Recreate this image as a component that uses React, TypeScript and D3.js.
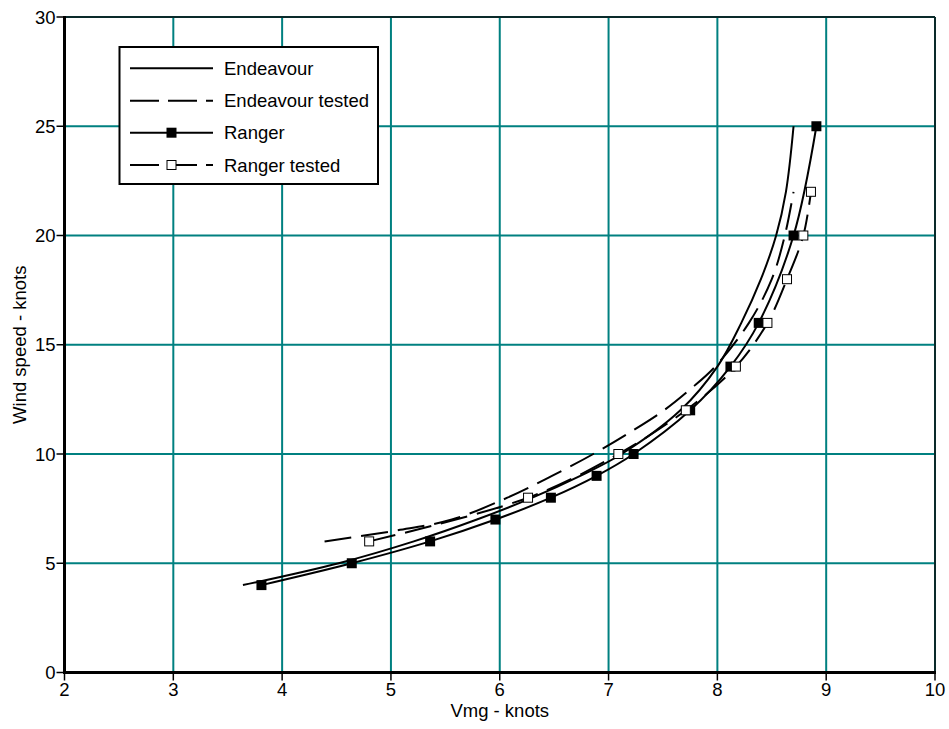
import React from "react";
import * as d3 from "d3";

const xTicks = [2, 3, 4, 5, 6, 7, 8, 9, 10];
const yTicks = [0, 5, 10, 15, 20, 25, 30];

const endeavourWind = [4, 5, 6, 7, 8, 9, 10, 12, 14, 16, 18, 20, 22, 25];
const endeavourVmg = [3.64, 4.52, 5.21, 5.79, 6.3, 6.74, 7.12, 7.66, 8.0, 8.22, 8.4, 8.54, 8.63, 8.7];

const endeavourTestedWind = [6, 6.5, 7, 8, 9, 10, 11, 12, 13, 14, 16, 18, 20, 22];
const endeavourTestedVmg = [4.39, 5.05, 5.56, 6.07, 6.48, 6.86, 7.2, 7.51, 7.76, 7.98, 8.29, 8.5, 8.62, 8.7];

const rangerWind = [4, 5, 6, 7, 8, 9, 10, 12, 14, 16, 20, 25];
const rangerVmg = [3.81, 4.64, 5.36, 5.96, 6.47, 6.89, 7.23, 7.75, 8.12, 8.38, 8.7, 8.91];

const rangerTestedWind = [6, 8, 10, 12, 14, 16, 18, 20, 22];
const rangerTestedVmg = [4.8, 6.26, 7.09, 7.71, 8.17, 8.46, 8.64, 8.79, 8.86];

const legendLabels = ["Endeavour", "Endeavour tested", "Ranger", "Ranger tested"];

const W = 949;
const H = 729;
const FONT = "'Liberation Sans', Arial, sans-serif";
const GRID = "#008080";
const DASH = "27 10";

export default function App() {
  const x = d3.scaleLinear().domain([2, 10]).range([64.5, 935]);
  const y = d3.scaleLinear().domain([0, 30]).range([672.5, 17]);

  const line = d3
    .line<[number, number]>()
    .x((d) => x(d[0]))
    .y((d) => y(d[1]))
    .curve(d3.curveCatmullRom.alpha(0.5));

  const pts = (v: number[], w: number[]) => v.map((d, i) => [d, w[i]] as [number, number]);
  const endeavour = pts(endeavourVmg, endeavourWind);
  const endeavourTested = pts(endeavourTestedVmg, endeavourTestedWind);
  const ranger = pts(rangerVmg, rangerWind);
  const rangerTested = pts(rangerTestedVmg, rangerTestedWind);

  const [x0, x1] = x.range();
  const [y0, y1] = y.range();

  const legendRows = [68.3, 100.7, 132.7, 165];
  const lx0 = 130;
  const lx1 = 213;
  const lmid = (lx0 + lx1) / 2;

  return (
    <svg
      width={W}
      height={H}
      style={{ position: "absolute", left: 0, top: 0, background: "#fff" }}
      fontFamily={FONT}
    >
      <rect x={0} y={0} width={W} height={H} fill="#fff" />
      {/* grid */}
      {xTicks.slice(1, -1).map((t) => (
        <line key={"gx" + t} x1={x(t)} x2={x(t)} y1={y0} y2={y1} stroke={GRID} strokeWidth={2} />
      ))}
      {yTicks.slice(1, -1).map((t) => (
        <line key={"gy" + t} x1={x0} x2={x1} y1={y(t)} y2={y(t)} stroke={GRID} strokeWidth={2} />
      ))}
      {/* frame top/right */}
      <line x1={x0} x2={x1} y1={y1} y2={y1} stroke="#0a2a2a" strokeWidth={2} />
      <line x1={x1} x2={x1} y1={y1} y2={y0} stroke="#0a2a2a" strokeWidth={2} />

      {/* curves */}
      <path d={line(endeavour) || ""} fill="none" stroke="#000" strokeWidth={2} />
      <path d={line(endeavourTested) || ""} fill="none" stroke="#000" strokeWidth={2} strokeDasharray={DASH} />
      <path d={line(ranger) || ""} fill="none" stroke="#000" strokeWidth={2} />
      <path d={line(rangerTested) || ""} fill="none" stroke="#000" strokeWidth={2} strokeDasharray={DASH} />

      {ranger.map((d, i) => (
        <rect key={"r" + i} x={x(d[0]) - 5} y={y(d[1]) - 5} width={10} height={10} fill="#000" />
      ))}
      {rangerTested.map((d, i) => (
        <rect
          key={"rt" + i}
          x={x(d[0]) - 4.5}
          y={y(d[1]) - 4.5}
          width={9}
          height={9}
          fill="#fff"
          stroke="#000"
          strokeWidth={1}
        />
      ))}

      {/* axes left/bottom */}
      <line x1={x0} x2={x0} y1={y0 + 1.5} y2={y1 - 1} stroke="#000" strokeWidth={3} />
      <line x1={x0 - 1.5} x2={x1 + 1} y1={y0} y2={y0} stroke="#000" strokeWidth={3} />
      {yTicks.map((t) => (
        <g key={"yt" + t}>
          <line x1={x0 - 8} x2={x0} y1={y(t)} y2={y(t)} stroke="#000" strokeWidth={1.5} />
          <text x={x0 - 9} y={y(t) + 6.5} textAnchor="end" fontSize={18.5} fill="#000">
            {t}
          </text>
        </g>
      ))}
      {xTicks.map((t) => (
        <g key={"xt" + t}>
          <line x1={x(t)} x2={x(t)} y1={y0} y2={y0 + 8} stroke="#000" strokeWidth={1.5} />
          <text x={x(t)} y={696} textAnchor="middle" fontSize={18.5} fill="#000">
            {t}
          </text>
        </g>
      ))}
      <text x={(x0 + x1) / 2} y={717} textAnchor="middle" fontSize={18.5} fill="#000">
        Vmg - knots
      </text>
      <text
        transform={`translate(26, ${(y0 + y1) / 2}) rotate(-90)`}
        textAnchor="middle"
        fontSize={18.5}
        fill="#000"
      >
        Wind speed - knots
      </text>

      {/* legend */}
      <rect x={119.5} y={47} width={258.5} height={137} fill="#fff" stroke="#000" strokeWidth={2} />
      {legendLabels.map((lab, i) => {
        const ly = legendRows[i];
        const dashed = i === 1 || i === 3;
        return (
          <g key={"lg" + i}>
            <line
              x1={lx0}
              x2={lx1}
              y1={ly}
              y2={ly}
              stroke="#000"
              strokeWidth={2}
              strokeDasharray={dashed ? "29 9" : undefined}
            />
            {i === 2 && <rect x={lmid - 5} y={ly - 5} width={10} height={10} fill="#000" />}
            {i === 3 && (
              <rect x={lmid - 4.5} y={ly - 4.5} width={9} height={9} fill="#fff" stroke="#000" strokeWidth={1} />
            )}
            <text x={224} y={ly + 6.7} fontSize={18.5} fill="#000">
              {lab}
            </text>
          </g>
        );
      })}
    </svg>
  );
}
